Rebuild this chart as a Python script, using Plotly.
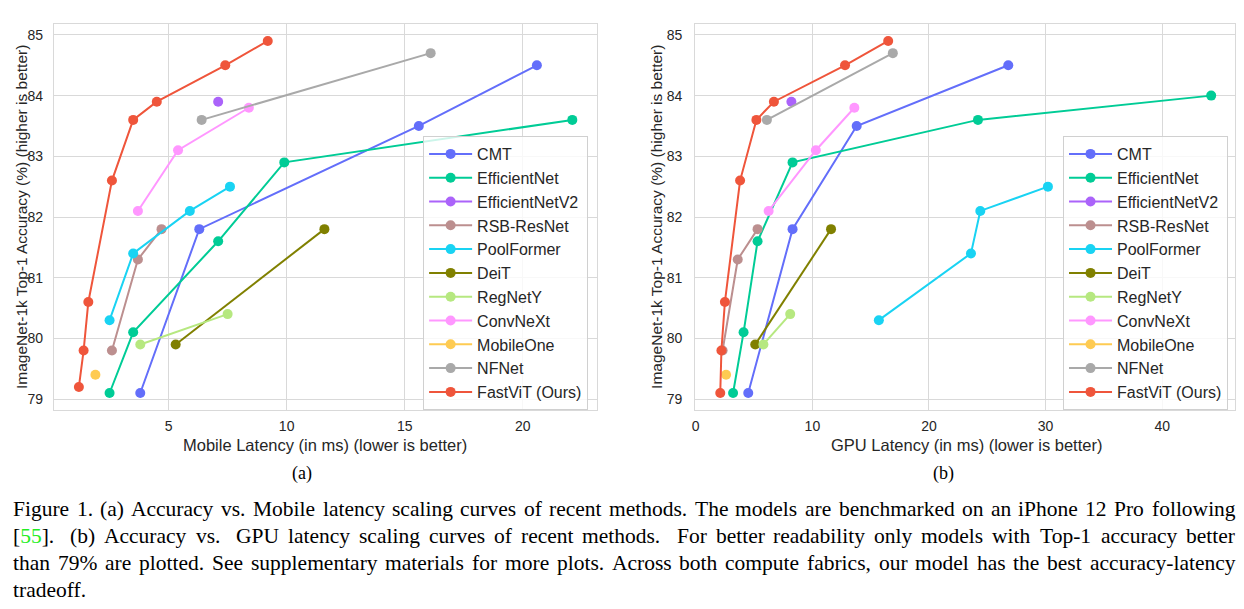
import plotly.graph_objects as go

# The page body has an 8 px margin: the figure is offset by 8 px, so every
# reference pixel coordinate is shifted by that amount, and the figure is sized
# so the page does not overflow the 1244x609 window.
OFF = 8
W, H = 1244 - 2 * OFF, 609 - 2 * OFF

# ---------------- data ----------------
models = ["CMT", "EfficientNet", "EfficientNetV2", "RSB-ResNet", "PoolFormer", "DeiT",
          "RegNetY", "ConvNeXt", "MobileOne", "NFNet", "FastViT (Ours)"]
colors = ["#636EFA", "#00CC96", "#AB63FA", "#BC8F8F", "#19D3F3", "#808000",
          "#B6E880", "#FF97FF", "#FECB52", "#A9A9A9", "#EF553B"]

# Mobile latency (ms) / top-1 accuracy (%)
cmt_mob_x = [3.8, 6.3, 15.6, 20.6]
cmt_mob_y = [79.1, 81.8, 83.5, 84.5]
effnet_mob_x = [2.5, 3.5, 7.1, 9.9, 22.1]
effnet_mob_y = [79.1, 80.1, 81.6, 82.9, 83.6]
effv2_mob_x = [7.1]
effv2_mob_y = [83.9]
rsb_mob_x = [2.6, 3.7, 4.7]
rsb_mob_y = [79.8, 81.3, 81.8]
pool_mob_x = [2.5, 3.5, 5.9, 7.6]
pool_mob_y = [80.3, 81.4, 82.1, 82.5]
deit_mob_x = [5.3, 11.6]
deit_mob_y = [79.9, 81.8]
regnet_mob_x = [3.8, 7.5]
regnet_mob_y = [79.9, 80.4]
convnext_mob_x = [3.7, 5.4, 8.4]
convnext_mob_y = [82.1, 83.1, 83.8]
mobileone_mob_x = [1.9]
mobileone_mob_y = [79.4]
nfnet_mob_x = [6.4, 16.1]
nfnet_mob_y = [83.6, 84.7]
fastvit_mob_x = [1.2, 1.4, 1.6, 2.6, 3.5, 4.5, 7.4, 9.2]
fastvit_mob_y = [79.2, 79.8, 80.6, 82.6, 83.6, 83.9, 84.5, 84.9]

# GPU latency (ms) / top-1 accuracy (%)
cmt_gpu_x = [4.5, 8.3, 13.8, 26.8]
cmt_gpu_y = [79.1, 81.8, 83.5, 84.5]
effnet_gpu_x = [3.2, 4.1, 5.3, 8.3, 24.2, 44.2]
effnet_gpu_y = [79.1, 80.1, 81.6, 82.9, 83.6, 84.0]
effv2_gpu_x = [8.2]
effv2_gpu_y = [83.9]
rsb_gpu_x = [2.3, 3.6, 5.3]
rsb_gpu_y = [79.8, 81.3, 81.8]
pool_gpu_x = [15.7, 23.6, 24.4, 30.2]
pool_gpu_y = [80.3, 81.4, 82.1, 82.5]
deit_gpu_x = [5.1, 11.6]
deit_gpu_y = [79.9, 81.8]
regnet_gpu_x = [5.8, 8.1]
regnet_gpu_y = [79.9, 80.4]
convnext_gpu_x = [6.25, 10.3, 13.6]
convnext_gpu_y = [82.1, 83.1, 83.8]
mobileone_gpu_x = [2.6]
mobileone_gpu_y = [79.4]
nfnet_gpu_x = [6.1, 16.9]
nfnet_gpu_y = [83.6, 84.7]
fastvit_gpu_x = [2.1, 2.2, 2.5, 3.8, 5.2, 6.7, 12.8, 16.5]
fastvit_gpu_y = [79.1, 79.8, 80.6, 82.6, 83.6, 83.9, 84.5, 84.9]

mobile_series = [(cmt_mob_x, cmt_mob_y), (effnet_mob_x, effnet_mob_y), (effv2_mob_x, effv2_mob_y),
                 (rsb_mob_x, rsb_mob_y), (pool_mob_x, pool_mob_y), (deit_mob_x, deit_mob_y),
                 (regnet_mob_x, regnet_mob_y), (convnext_mob_x, convnext_mob_y),
                 (mobileone_mob_x, mobileone_mob_y), (nfnet_mob_x, nfnet_mob_y),
                 (fastvit_mob_x, fastvit_mob_y)]
gpu_series = [(cmt_gpu_x, cmt_gpu_y), (effnet_gpu_x, effnet_gpu_y), (effv2_gpu_x, effv2_gpu_y),
              (rsb_gpu_x, rsb_gpu_y), (pool_gpu_x, pool_gpu_y), (deit_gpu_x, deit_gpu_y),
              (regnet_gpu_x, regnet_gpu_y), (convnext_gpu_x, convnext_gpu_y),
              (mobileone_gpu_x, mobileone_gpu_y), (nfnet_gpu_x, nfnet_gpu_y),
              (fastvit_gpu_x, fastvit_gpu_y)]

y_ticks = [79, 80, 81, 82, 83, 84, 85]
mob_x_ticks = [5, 10, 15, 20]
gpu_x_ticks = [0, 10, 20, 30, 40]

caption_lines = [
    "Figure 1. (a) Accuracy vs. Mobile latency scaling curves of recent methods. The models are benchmarked on an iPhone 12 Pro following",
    "[55]. (b) Accuracy vs. GPU latency scaling curves of recent methods. For better readability only models with Top-1 accuracy better",
    "than 79% are plotted. See supplementary materials for more plots. Across both compute fabrics, our model has the best accuracy-latency",
    "tradeoff.",
]
caption_justify = [True, True, True, False]
cite_word = "[55]."
cite_html = "[<span style='color:#22ee22'>55</span>]."

# ---------------- styling ----------------
SANS = "Liberation Sans, Arial, sans-serif"
SERIF = "Liberation Serif, Times New Roman, serif"
TXT = "#262626"
GRID = "#d9d9d9"
CAP_SIZE = 21.5

# Times (Liberation Serif) advance widths, 1/1000 em, for justifying the caption
TW = {" ": 250, "%": 833, "(": 333, ")": 333, ",": 250, "-": 333, ".": 250,
      "[": 333, "]": 333, "A": 722, "F": 556, "G": 722, "M": 889, "P": 556, "S": 556,
      "T": 611, "U": 722, "a": 444, "b": 500, "c": 444, "d": 500, "e": 444, "f": 333,
      "g": 500, "h": 500, "i": 278, "j": 278, "k": 500, "l": 278, "m": 778, "n": 500,
      "o": 500, "p": 500, "q": 500, "r": 333, "s": 389, "t": 278, "u": 500, "v": 500,
      "w": 722, "x": 500, "y": 500, "z": 444}


def text_w(s, size):
    return sum(TW.get(c, 500) for c in s) * size / 1000.0


fig = go.Figure()
for i, name in enumerate(models):
    mx, my = mobile_series[i]
    fig.add_trace(go.Scatter(x=mx, y=my, mode="lines+markers", name=name,
                             line=dict(color=colors[i], width=2),
                             marker=dict(color=colors[i], size=10),
                             xaxis="x", yaxis="y", legend="legend"))
for i, name in enumerate(models):
    gx, gy = gpu_series[i]
    fig.add_trace(go.Scatter(x=gx, y=gy, mode="lines+markers", name=name,
                             line=dict(color=colors[i], width=2),
                             marker=dict(color=colors[i], size=10),
                             xaxis="x2", yaxis="y2", legend="legend2"))


def px(x):
    return min(1.0, max(0.0, (x - OFF) / W))


def py(y):
    return min(1.0, max(0.0, 1 - (y - OFF) / H))


ydom = [py(410), py(24)]
axis_common = dict(showgrid=True, gridcolor=GRID, gridwidth=1, showline=True, linecolor=GRID,
                   linewidth=1, mirror=True, zeroline=False, ticks="",
                   tickfont=dict(family=SANS, size=14, color=TXT))

legend_common = dict(font=dict(family=SANS, size=16, color=TXT), bgcolor="rgba(255,255,255,0.8)",
                     bordercolor="#d0d0d0", borderwidth=1, xanchor="right", yanchor="top",
                     itemwidth=43, tracegroupgap=0)

fig.update_layout(
    width=W, height=H, margin=dict(l=0, r=0, t=0, b=0),
    plot_bgcolor="white", paper_bgcolor="white",
    xaxis=dict(domain=[px(51), px(596)], range=[0.14, 23.15], tickvals=mob_x_ticks,
               anchor="y", ticklabelstandoff=3, **axis_common),
    yaxis=dict(domain=ydom, range=[78.82, 85.18], tickvals=y_ticks, anchor="x",
               ticklabelstandoff=7, **axis_common),
    xaxis2=dict(domain=[px(694.3), px(1235.5)], range=[-0.06, 46.2], tickvals=gpu_x_ticks,
                anchor="y2", ticklabelstandoff=3, **axis_common),
    yaxis2=dict(domain=ydom, range=[78.82, 85.18], tickvals=y_ticks, anchor="x2",
                ticklabelstandoff=9, **axis_common),
    legend=dict(x=px(587), y=py(136), **legend_common),
    legend2=dict(x=px(1229), y=py(136), **legend_common),
    showlegend=True,
)

ann = []
# axis titles
ann.append(dict(text="Mobile Latency (in ms) (lower is better)", x=px(323.5), y=py(445),
                xref="paper", yref="paper", showarrow=False, xanchor="center", yanchor="middle",
                font=dict(family=SANS, size=16.5, color=TXT)))
ann.append(dict(text="GPU Latency (in ms) (lower is better)", x=px(966.5), y=py(445),
                xref="paper", yref="paper", showarrow=False, xanchor="center", yanchor="middle",
                font=dict(family=SANS, size=16.5, color=TXT)))
for xc in (18, 655):
    ann.append(dict(text="ImageNet-1k Top-1 Accuracy (%) (higher is better)", x=px(xc), y=py(217),
                    xref="paper", yref="paper", showarrow=False, textangle=-90,
                    xanchor="center", yanchor="middle",
                    font=dict(family=SANS, size=15.5, color=TXT)))
# sub-figure labels
ann.append(dict(text="(a)", x=px(300), y=py(473), xref="paper", yref="paper", showarrow=False,
                xanchor="center", yanchor="middle", font=dict(family=SERIF, size=18, color="black")))
ann.append(dict(text="(b)", x=px(944), y=py(473), xref="paper", yref="paper", showarrow=False,
                xanchor="center", yanchor="middle", font=dict(family=SERIF, size=18, color="black")))

# caption, justified word by word across the page width
cap_left, cap_right = max(3, OFF), 1234
cap_y = [509, 536, 563, 590]
for line, just, yy in zip(caption_lines, caption_justify, cap_y):
    words = line.split(" ")
    widths = [text_w(w, CAP_SIZE) for w in words]
    if just and len(words) > 1:
        weights = []
        for j in range(len(words) - 1):
            wgt = 1.0
            if words[j].endswith(".") and line.startswith("[55]"):
                wgt = 1.8
            weights.append(wgt)
        extra = (cap_right - cap_left) - sum(widths)
        unit = extra / sum(weights)
        gaps = [unit * g for g in weights]
    else:
        gaps = [text_w(" ", CAP_SIZE)] * (len(words) - 1)
    xcur = cap_left
    for j, wd in enumerate(words):
        txt = cite_html if wd == cite_word else wd
        ann.append(dict(text=txt, x=px(xcur), y=py(yy), xref="paper", yref="paper",
                        showarrow=False, xanchor="left", yanchor="middle",
                        font=dict(family=SERIF, size=CAP_SIZE, color="black")))
        xcur += widths[j] + (gaps[j] if j < len(gaps) else 0)

fig.update_layout(annotations=ann)

fig.write_html("out.html")
